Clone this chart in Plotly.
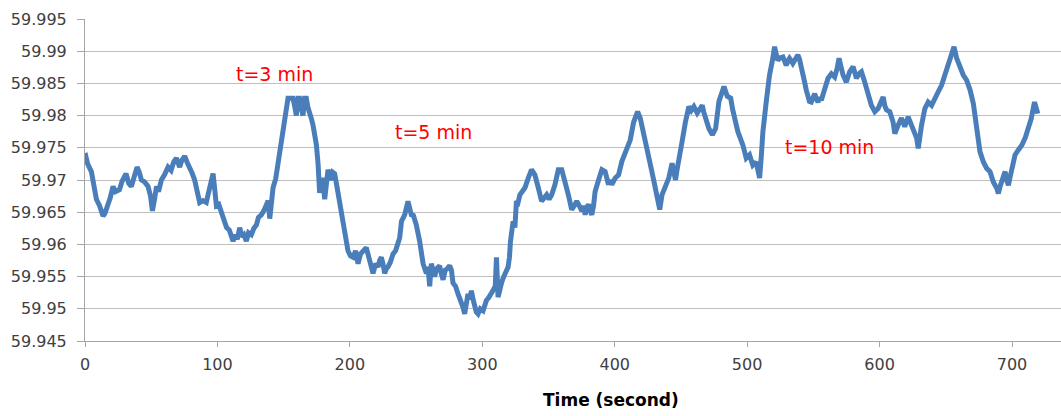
import plotly.graph_objects as go

# Time (s) and frequency (Hz) readings taken from the chart
time_s = [
    0, 2, 4.8, 8.6, 11, 13.6, 15, 17.4, 19, 21.2, 23, 26, 28, 31, 33, 35, 37, 39.3, 41, 42.6,
    45, 47.6, 49.5, 50.9, 52.5, 54, 55.5, 57.7, 60, 62.7, 65, 67, 69, 71.5, 73, 75.3, 77, 79, 81, 82.8,
    85, 86.6, 89, 91.6, 93, 94.2, 96.7, 98, 99.2, 101, 103, 105, 106.9, 109, 111.8, 113.5, 115, 116.8, 118.5, 120,
    121.8, 123.5, 125.6, 127.5, 129.4, 131, 133.2, 135, 137, 138.3, 139.5, 141, 142, 144, 145.7, 147, 148.2, 149.5, 150.8, 152,
    153.3, 155, 157, 158.3, 159.6, 160.8, 162, 163.3, 164.6, 165.8, 167.1, 168.4, 169.6, 171, 172.2, 173.5, 174.7, 176, 177.2, 178.5,
    179.7, 181, 182.3, 183.5, 184.8, 186, 187.2, 188.5, 189.8, 191, 193.6, 196.1, 198.6, 200.5, 202.4, 204.3, 206.2, 208, 210, 212.4,
    213.7, 215, 216.2, 217.5, 219.5, 221.3, 222.5, 223.8, 225, 226.3, 227.5, 228.8, 230.5, 232.6, 234.5, 236.4, 237.6, 239, 241.4, 243.9,
    245, 246.4, 248, 250.2, 252.7, 255.3, 257.8, 259, 260.3, 261.5, 262.8, 264, 265.5, 267.8, 269, 270.4, 272, 273.5, 275.4, 276.7,
    277.9, 279.8, 281.7, 283.5, 285.5, 286.7, 288, 289.2, 290.5, 291.8, 293, 294.3, 295.5, 296.8, 298.5, 300.6, 302, 303.1, 305, 306.9,
    308.5, 309.8, 310.7, 311.9, 313, 314.5, 315.8, 317, 319.5, 320.5, 321.3, 323.3, 324.6, 325.8, 327, 328.4, 330.3, 332.2, 334.7, 337.2,
    339.7, 341, 342.3, 344.8, 346.5, 348.6, 350.5, 352.4, 354.9, 357.4, 360, 361.2, 362.5, 363.8, 365, 366.3, 367.5, 369.5, 371.3, 373.2,
    375.1, 376.4, 377.7, 379, 380.2, 381.5, 382.7, 384, 385.2, 387.8, 390.3, 392.8, 394, 395.3, 396.5, 397.8, 400.4, 402.9, 405.4, 408,
    410, 411.7, 414.3, 417.3, 419.3, 421.8, 424.4, 426.9, 429.4, 432, 434, 435.7, 438.3, 440.8, 443.3, 444.6, 445.9, 447, 448.4, 450.9,
    453.4, 456, 457.8, 459.8, 462.3, 464, 466.1, 467.3, 468.6, 471.1, 473.7, 476.2, 478.7, 481, 482.5, 485, 487.6, 489, 490.5, 493,
    496.8, 499.3, 501.8, 504.3, 506.8, 508, 509.4, 510.6, 511.9, 514.4, 516.9, 519.4, 520.7, 522, 523.2, 525, 527, 528.2, 529.5, 530.8,
    532, 533.3, 534.5, 536.5, 538.3, 539.5, 540.8, 542, 543.4, 544.6, 545.9, 547, 548.4, 549.8, 551, 552.3, 553.5, 554.8, 556, 557.2,
    558.5, 561.1, 563.6, 566.1, 567.8, 569.4, 571, 572.4, 574.9, 577.4, 580, 581.3, 582.5, 584.5, 586.3, 588.8, 591.3, 593.8, 596.4, 598.9,
    600.8, 602.7, 604, 605.2, 607.7, 610.2, 611.5, 612.8, 614, 616.5, 619, 621.6, 624.1, 626.6, 628, 629.2, 630.5, 631.7, 634.2, 636.7,
    639.3, 641.8, 644.3, 646.8, 649.4, 651.9, 654.4, 656.2, 658.2, 660.7, 663.2, 665.7, 668.3, 670.8, 673.3, 675.8, 678.4, 680.9, 683.4, 685.9,
    688.5, 689.7, 691, 692.2, 693.5, 694.8, 696, 697.3, 698.6, 699.8, 702.3, 704.9, 707.4, 709.9, 712.4, 714.5, 717, 718.2, 719.5,
]

freq_hz = [
    59.9742, 59.9725, 59.9713, 59.9670, 59.9660, 59.9644, 59.9648, 59.9660, 59.9672, 59.9690, 59.9682, 59.9685, 59.9698, 59.9710, 59.9695, 59.9690, 59.9705, 59.9720, 59.9712, 59.9700,
    59.9697, 59.9690, 59.9675, 59.9652, 59.9670, 59.9690, 59.9682, 59.9700, 59.9708, 59.9720, 59.9715, 59.9728, 59.9734, 59.9720, 59.9730, 59.9737, 59.9728, 59.9720, 59.9710, 59.9700,
    59.9680, 59.9665, 59.9668, 59.9665, 59.9678, 59.9690, 59.9710, 59.9685, 59.9660, 59.9662, 59.9650, 59.9640, 59.9626, 59.9622, 59.9605, 59.9615, 59.9608, 59.9626, 59.9612, 59.9615,
    59.9605, 59.9618, 59.9615, 59.9625, 59.9630, 59.9642, 59.9646, 59.9652, 59.9660, 59.9668, 59.9640, 59.9668, 59.9688, 59.9702, 59.9724, 59.9742, 59.9765, 59.9782, 59.9800, 59.9815,
    59.9827, 59.9827, 59.9827, 59.9815, 59.9800, 59.9827, 59.9827, 59.9812, 59.9800, 59.9827, 59.9827, 59.9812, 59.9800, 59.9795, 59.9785, 59.9772, 59.9755, 59.9725, 59.9680, 59.9700,
    59.9700, 59.9670, 59.9700, 59.9716, 59.9705, 59.9700, 59.9712, 59.9710, 59.9695, 59.9680, 59.9656, 59.9620, 59.9590, 59.9582, 59.9580, 59.9590, 59.9570, 59.9585, 59.9590, 59.9595,
    59.9585, 59.9575, 59.9565, 59.9555, 59.9570, 59.9565, 59.9575, 59.9580, 59.9570, 59.9555, 59.9562, 59.9565, 59.9572, 59.9585, 59.9590, 59.9600, 59.9610, 59.9636, 59.9646, 59.9667,
    59.9655, 59.9646, 59.9645, 59.9630, 59.9605, 59.9570, 59.9555, 59.9565, 59.9535, 59.9570, 59.9560, 59.9550, 59.9562, 59.9567, 59.9555, 59.9545, 59.9560, 59.9562, 59.9567, 59.9560,
    59.9540, 59.9535, 59.9523, 59.9515, 59.9502, 59.9492, 59.9510, 59.9523, 59.9515, 59.9528, 59.9515, 59.9502, 59.9495, 59.9492, 59.9500, 59.9497, 59.9505, 59.9513, 59.9518, 59.9523,
    59.9530, 59.9535, 59.9580, 59.9518, 59.9530, 59.9540, 59.9548, 59.9555, 59.9565, 59.9580, 59.9605, 59.9636, 59.9626, 59.9667, 59.9665, 59.9677, 59.9682, 59.9688, 59.9703, 59.9716,
    59.9708, 59.9700, 59.9688, 59.9667, 59.9672, 59.9677, 59.9670, 59.9677, 59.9693, 59.9716, 59.9716, 59.9708, 59.9700, 59.9690, 59.9677, 59.9665, 59.9654, 59.9660, 59.9667, 59.9660,
    59.9652, 59.9660, 59.9646, 59.9658, 59.9662, 59.9652, 59.9646, 59.9660, 59.9682, 59.9700, 59.9716, 59.9713, 59.9700, 59.9693, 59.9700, 59.9693, 59.9703, 59.9708, 59.9729, 59.9745,
    59.9752, 59.9762, 59.9790, 59.9806, 59.9796, 59.9775, 59.9750, 59.9724, 59.9700, 59.9677, 59.9654, 59.9677, 59.9693, 59.9703, 59.9726, 59.9712, 59.9700, 59.9715, 59.9729, 59.9760,
    59.9790, 59.9814, 59.9808, 59.9814, 59.9804, 59.9810, 59.9816, 59.9805, 59.9796, 59.9780, 59.9770, 59.9780, 59.9822, 59.9835, 59.9845, 59.9830, 59.9827, 59.9810, 59.9796, 59.9775,
    59.9754, 59.9734, 59.9739, 59.9723, 59.9728, 59.9715, 59.9703, 59.9734, 59.9775, 59.9821, 59.9863, 59.9889, 59.9907, 59.9895, 59.9886, 59.9890, 59.9891, 59.9885, 59.9878, 59.9885,
    59.9889, 59.9885, 59.9881, 59.9888, 59.9894, 59.9888, 59.9878, 59.9865, 59.9852, 59.9840, 59.9827, 59.9822, 59.9821, 59.9830, 59.9834, 59.9826, 59.9821, 59.9828, 59.9824, 59.9832,
    59.9840, 59.9858, 59.9865, 59.9860, 59.9872, 59.9889, 59.9875, 59.9863, 59.9852, 59.9868, 59.9876, 59.9865, 59.9858, 59.9865, 59.9868, 59.9852, 59.9832, 59.9816, 59.9806, 59.9811,
    59.9820, 59.9829, 59.9815, 59.9809, 59.9806, 59.9790, 59.9772, 59.9780, 59.9785, 59.9796, 59.9783, 59.9798, 59.9785, 59.9775, 59.9765, 59.9749, 59.9770, 59.9785, 59.9811, 59.9821,
    59.9816, 59.9829, 59.9837, 59.9847, 59.9863, 59.9878, 59.9894, 59.9907, 59.9889, 59.9873, 59.9863, 59.9855, 59.9840, 59.9819, 59.9780, 59.9744, 59.9728, 59.9718, 59.9713, 59.9697,
    59.9687, 59.9679, 59.9690, 59.9697, 59.9705, 59.9713, 59.9700, 59.9692, 59.9705, 59.9718, 59.9739, 59.9747, 59.9754, 59.9765, 59.9780, 59.9795, 59.9821, 59.9810, 59.9803,
]

y_tick_vals = [59.945, 59.95, 59.955, 59.96, 59.965, 59.97, 59.975, 59.98, 59.985, 59.99, 59.995]
y_tick_text = ["59.945", "59.95", "59.955", "59.96", "59.965", "59.97", "59.975", "59.98", "59.985", "59.99", "59.995"]
x_tick_vals = [0, 100, 200, 300, 400, 500, 600, 700]

note_labels = ["t=3 min", "t=5 min", "t=10 min"]
note_x = [143, 263, 562]
note_y = [59.9865, 59.9774, 59.9752]

fig = go.Figure()
fig.add_trace(go.Scatter(
    x=time_s, y=freq_hz, mode="lines",
    line=dict(color="#4a7ebb", width=5),
    showlegend=False, hoverinfo="skip",
))

for txt, xv, yv in zip(note_labels, note_x, note_y):
    fig.add_annotation(x=xv, y=yv, xref="x", yref="y", text=txt, showarrow=False,
                       font=dict(family="DejaVu Sans", size=19, color="#ff0000"))

fig.add_annotation(x=0.539, y=-0.183, xref="paper", yref="paper", text="<b>Time (second)</b>",
                   showarrow=False, xanchor="center", yanchor="middle",
                   font=dict(family="DejaVu Sans", size=17, color="#000000"))

tick_font = dict(family="DejaVu Sans", size=16, color="#404040")

fig.update_layout(
    width=1061, height=416,
    margin=dict(l=85, r=0, t=19, b=75, pad=0, autoexpand=False),
    paper_bgcolor="white", plot_bgcolor="white",
    xaxis=dict(range=[0, 737], tickvals=x_tick_vals, showgrid=False, zeroline=False,
               showline=True, linecolor="#a6a6a6", linewidth=1, automargin=False,
               ticks="outside", ticklen=5, tickcolor="#a6a6a6", tickfont=tick_font,
               ticklabelstandoff=4),
    yaxis=dict(range=[59.945, 59.995], tickvals=y_tick_vals, ticktext=y_tick_text,
               showgrid=True, gridcolor="#bfbfbf", gridwidth=1, zeroline=False,
               showline=True, linecolor="#a6a6a6", linewidth=1, automargin=False,
               ticks="outside", ticklen=7, tickcolor="#a6a6a6", tickfont=tick_font,
               ticklabelstandoff=7),
)

fig.write_html(
    "out.html",
    config={"displayModeBar": False},
    post_script="document.body.style.margin='0';document.body.style.padding='0';",
)
